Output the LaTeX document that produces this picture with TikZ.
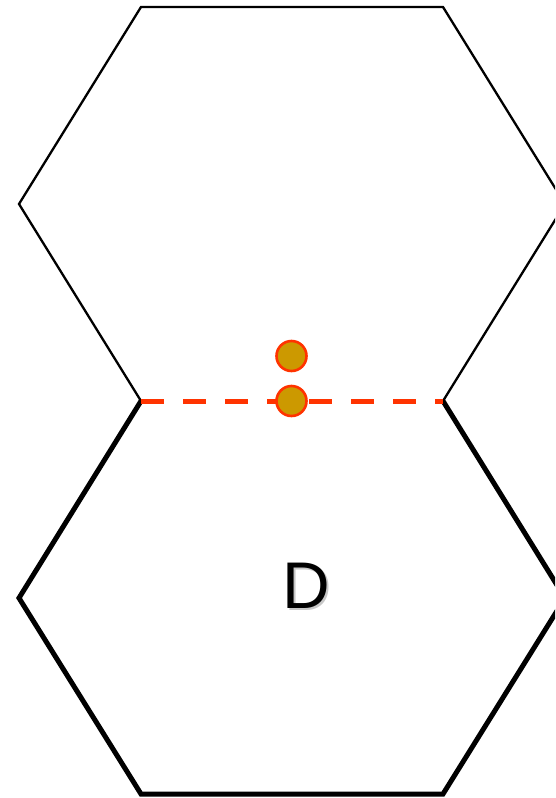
\documentclass[tikz,border=0pt]{standalone}
\usepackage{fontspec}
\setmainfont{Liberation Sans}
\definecolor{dotfill}{HTML}{CC9900}
\definecolor{redline}{HTML}{FF3300}
\begin{document}
\begin{tikzpicture}[x=1pt,y=-1pt,
  thinedge/.style={line width=2.3pt,line join=miter},
  thickedge/.style={line width=5pt,line join=miter},
  sharededge/.style={line width=5pt,redline,dash pattern=on 23pt off 19pt},
  dotnode/.style={circle,draw=redline,fill=dotfill,line width=2.6pt,minimum size=30pt,inner sep=0pt}]
\useasboundingbox (0,0) rectangle (555,798);
\clip (0,0) rectangle (555,798);
% top hexagon
\coordinate (t1) at (141,7);
\coordinate (t2) at (443,7);
\coordinate (t3) at (565,204);
\coordinate (t4) at (443,401);
\coordinate (t5) at (141,401);
\coordinate (t6) at (19,204);
% bottom hexagon
\coordinate (b3) at (565,598);
\coordinate (b4) at (443,794);
\coordinate (b5) at (141,794);
\coordinate (b6) at (19,598);
\draw[thinedge] (t4) -- (t3) -- (t2) -- (t1) -- (t6) -- (t5);
\draw[thickedge] (t5) -- (b6) -- (b5) -- (b4) -- (b3) -- (t4);
\draw[sharededge] (t5) -- (t4);
\node[dotnode] (d1) at (291.5,356) {};
\node[dotnode] (d2) at (291.5,401) {};
\node[font=\fontsize{66}{66}\selectfont,inner sep=0pt] (dlabel) at (306,587)
  {\rlap{\hspace{2.5pt}\raisebox{-2.5pt}{\textcolor{black!22}{D}}}D};
\end{tikzpicture}
\end{document}
